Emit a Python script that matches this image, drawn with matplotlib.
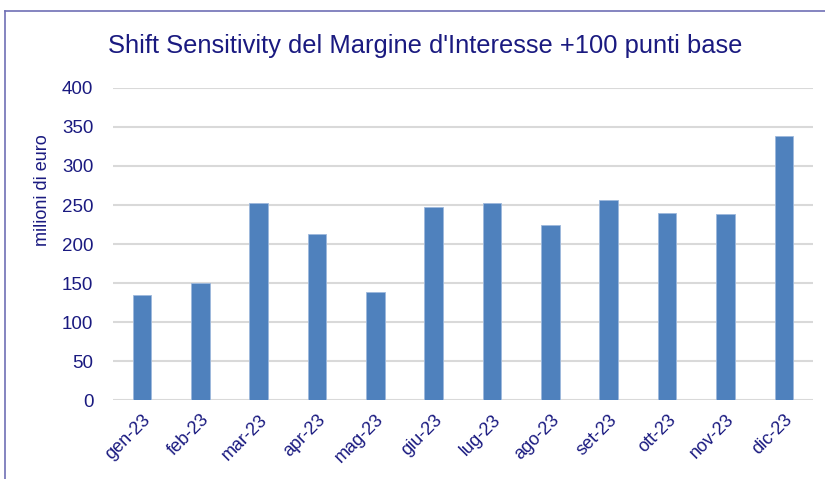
import matplotlib.pyplot as plt
from matplotlib.lines import Line2D
import numpy as np

plt.rcParams['font.family'] = ['Liberation Sans', 'DejaVu Sans']

months = ['gen-23', 'feb-23', 'mar-23', 'apr-23', 'mag-23', 'giu-23',
          'lug-23', 'ago-23', 'set-23', 'ott-23', 'nov-23', 'dic-23']
values = [134, 150, 253, 213, 138, 247, 252, 225, 256, 240, 239, 339]

navy = '#1a1a80'
bar_color = '#4f81bd'

fig = plt.figure(figsize=(8.25, 4.79), dpi=100)
ax = fig.add_axes([0.1367, 0.1649, 0.8488, 0.6514])

x = np.arange(len(months))
ax.bar(x, values, width=0.32, color=bar_color, edgecolor='#9db8dc', linewidth=0.6, zorder=3)

ax.set_xlim(-0.5, len(months) - 0.5)
ax.set_ylim(0, 400)
ax.set_yticks(range(0, 401, 50))
ax.set_xticks(x)
ax.set_xticklabels(months, rotation=45, ha='right', va='top', rotation_mode='anchor')
ax.tick_params(axis='both', length=0, labelsize=13.5, labelcolor=navy)
ax.tick_params(axis='x', labelsize=13, pad=8)
ax.tick_params(axis='y', pad=14)
ax.grid(axis='y', color='#d9d9d9', linewidth=1.5, zorder=0)
ax.set_axisbelow(True)
for s in ax.spines.values():
    s.set_visible(False)

ax.set_ylabel('milioni di euro', fontsize=13, color=navy)
ax.yaxis.set_label_coords(-0.088, 0.673)
fig.text(0.515, 0.904, "Shift Sensitivity del Margine d'Interesse +100 punti base",
         ha='center', va='center', fontsize=18.4, color=navy)

# outer frame (left and top edges)
frame_c = '#6f6fb5'
fig.add_artist(Line2D([5 / 825, 5 / 825], [0, 1 - 11 / 479], transform=fig.transFigure,
                      color=frame_c, linewidth=1.2))
fig.add_artist(Line2D([5 / 825, 1], [1 - 11 / 479, 1 - 11 / 479], transform=fig.transFigure,
                      color=frame_c, linewidth=1.2))

fig.savefig('out.png', dpi=100)
